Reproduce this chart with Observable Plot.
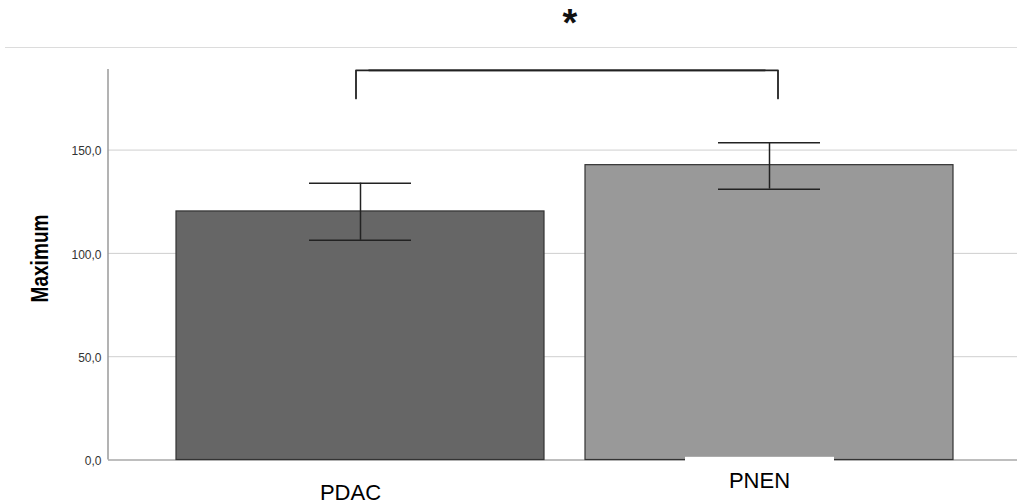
<!DOCTYPE html>
<html>
<head>
<meta charset="utf-8">
<script src="https://cdn.jsdelivr.net/npm/d3@7"></script>
<script src="https://cdn.jsdelivr.net/npm/@observablehq/plot@0.6"></script>
<style>
  body { margin: 0; background: #fff; font-family: "Liberation Sans", Arial, sans-serif; }
  #wrap { position: relative; width: 1017px; height: 504px; overflow: hidden; }
  #head { position: relative; margin-left: 5px; width: 1012px; height: 47px; border-bottom: 1px solid #dcdcdc; }
  #sig { position: absolute; left: 565px; top: 4px; transform: translateX(-50%);
         font-size: 38px; font-weight: bold; line-height: 38px; color: #111; }
  #chart svg { display: block; }
</style>
</head>
<body>
<div id="wrap">
  <div id="head"><span id="sig"></span></div>
  <div id="chart"></div>
</div>
<script>
// Groups and their mean "Maximum" with 95% CI
const groups = ["PDAC", "PNEN"];
const means = [120.3, 142.7];
const ciLow = [106.3, 131.1];
const ciHigh = [134.0, 153.6];
const fills = ["#666666", "#999999"];

// Axis
const yTicks = [0, 50, 100, 150];
const yMax = 189;
const yLabel = "Maximum";

// Significance bracket between the two groups
const significance = "*";
const bracketFoot = 175.0;
const bracketTop = 188.6;

const rows = groups.map((g, i) => ({group: g, mean: means[i], lo: ciLow[i], hi: ciHigh[i], fill: fills[i]}));
// left arm + top bar, and top bar + right arm
const bracketLeft = [
  {group: groups[0], y: bracketFoot},
  {group: groups[0], y: bracketTop},
  {group: groups[1], y: bracketTop}
];
const bracketRight = [
  {group: groups[0], y: bracketTop},
  {group: groups[1], y: bracketTop},
  {group: groups[1], y: bracketFoot}
];
const fmt = d => d.toFixed(1).replace(".", ",");

document.getElementById("sig").textContent = significance;

const marginLeft = 108;
const bracketStyle = {x: "group", y: "y", stroke: "#222", strokeWidth: 1.8, strokeLinejoin: "round"};
const chart = Plot.plot({
  width: 1017,
  height: 456,
  marginTop: 21,
  marginBottom: 44.5,
  marginLeft,
  marginRight: 0,
  style: {fontFamily: "'Liberation Sans', Arial, sans-serif", background: "white", overflow: "visible"},
  x: {domain: groups, range: [marginLeft, 1022], paddingInner: 0.1, paddingOuter: 0.165, axis: null},
  y: {domain: [0, yMax], axis: null},
  color: {type: "identity"},
  marks: [
    // grid and baseline
    Plot.ruleY(yTicks.filter(d => d > 0), {stroke: "#cfcfcf", strokeWidth: 1}),
    Plot.ruleY([0], {stroke: "#a8a8a8", strokeWidth: 1.5}),
    // bars
    Plot.barY(rows, {x: "group", y: "mean", fill: "fill", stroke: "#333", strokeWidth: 1.2}),
    // white patch behind the PNEN label
    Plot.barY([groups[1]], {x: d => d, y1: 1.3, y2: -22, fill: "white", insetLeft: 100, insetRight: 119}),
    // error bars
    Plot.ruleX(rows, {x: "group", y1: "lo", y2: "hi", stroke: "#222", strokeWidth: 1.5}),
    Plot.tickY(rows, {x: "group", y: "lo", stroke: "#222", strokeWidth: 1.5, insetLeft: 133, insetRight: 133}),
    Plot.tickY(rows, {x: "group", y: "hi", stroke: "#222", strokeWidth: 1.5, insetLeft: 133, insetRight: 133}),
    // significance bracket
    Plot.line(bracketLeft, {...bracketStyle, dx: -4.5}),
    Plot.line(bracketRight, {...bracketStyle, dx: 8.5}),
    // y tick labels
    Plot.text(yTicks, {y: d => d, text: fmt, frameAnchor: "left", textAnchor: "end", dx: -7, dy: 1.5, fontSize: 12, fill: "#333"}),
    // y axis title
    Plot.text([yLabel], {frameAnchor: "left", textAnchor: "start", rotate: -90, dx: -68.5, dy: 37.75, fontSize: 24, fontWeight: "bold", fill: "#000"}),
    // x category labels
    Plot.text([groups[0]], {x: d => d, frameAnchor: "bottom", lineAnchor: "bottom", dx: -10, dy: 39.5, fontSize: 22, fill: "#000"}),
    Plot.text([groups[1]], {x: d => d, frameAnchor: "bottom", lineAnchor: "bottom", dx: -10, dy: 28, fontSize: 22, fill: "#000"})
  ]
});

// y axis line along the left edge of the frame
const yRange = chart.scale("y").range;
d3.select(chart).append("line")
  .attr("x1", marginLeft).attr("x2", marginLeft)
  .attr("y1", yRange[0]).attr("y2", yRange[1])
  .attr("stroke", "#9a9a9a").attr("stroke-width", 1.5);

// condensed look for the axis title
d3.select(chart).selectAll("text")
  .filter(function () { return this.textContent === yLabel; })
  .attr("textLength", 88).attr("lengthAdjust", "spacingAndGlyphs");

document.getElementById("chart").append(chart);
</script>
</body>
</html>
